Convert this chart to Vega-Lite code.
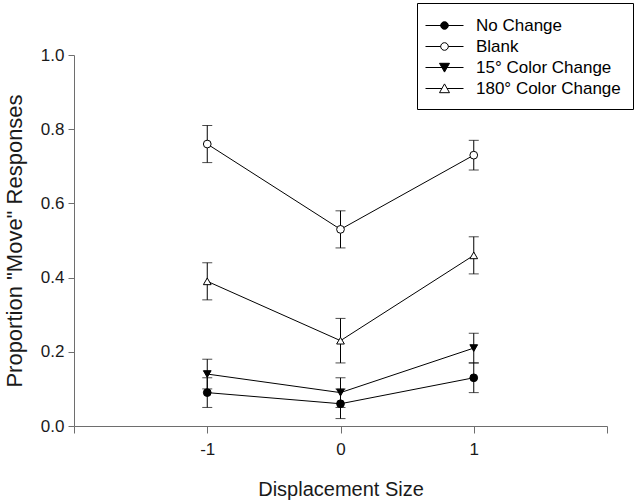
{
  "$schema": "https://vega.github.io/schema/vega-lite/v6.json",
  "width": 533,
  "height": 371,
  "autosize": {"type": "none"},
  "padding": {"left": 74, "top": 55, "right": 29, "bottom": 76},
  "background": "white",
  "config": {
    "font": "Liberation Sans",
    "view": {"stroke": null},
    "axis": {"grid": false, "domainColor": "#6e6e6e", "tickColor": "#6e6e6e", "labelColor": "#1a1a1a", "titleColor": "#1a1a1a", "titleFontWeight": "normal", "labelFont": "Liberation Sans", "titleFont": "Liberation Sans"}
  },
  "data": {
    "values": [
      {"series": "No Change", "x": -1, "mean": 0.09, "lo": 0.05, "hi": 0.13},
      {"series": "No Change", "x": 0, "mean": 0.06, "lo": 0.02, "hi": 0.10},
      {"series": "No Change", "x": 1, "mean": 0.13, "lo": 0.09, "hi": 0.17},
      {"series": "Blank", "x": -1, "mean": 0.76, "lo": 0.71, "hi": 0.81},
      {"series": "Blank", "x": 0, "mean": 0.53, "lo": 0.48, "hi": 0.58},
      {"series": "Blank", "x": 1, "mean": 0.73, "lo": 0.69, "hi": 0.77},
      {"series": "15° Color Change", "x": -1, "mean": 0.14, "lo": 0.10, "hi": 0.18},
      {"series": "15° Color Change", "x": 0, "mean": 0.09, "lo": 0.05, "hi": 0.13},
      {"series": "15° Color Change", "x": 1, "mean": 0.21, "lo": 0.17, "hi": 0.25},
      {"series": "180° Color Change", "x": -1, "mean": 0.39, "lo": 0.34, "hi": 0.44},
      {"series": "180° Color Change", "x": 0, "mean": 0.23, "lo": 0.17, "hi": 0.29},
      {"series": "180° Color Change", "x": 1, "mean": 0.46, "lo": 0.41, "hi": 0.51}
    ]
  },
  "encoding": {
    "x": {
      "field": "x", "type": "quantitative",
      "scale": {"domain": [-2, 2], "nice": false, "zero": false},
      "axis": {"title": "Displacement Size", "values": [-2, -1, 0, 1, 2], "labelExpr": "abs(datum.value) > 1.5 ? '' : '' + datum.value", "tickSize": 7, "labelPadding": 8, "labelFontSize": 17, "titleFontSize": 20, "titlePadding": 22}
    }
  },
  "resolve": {"scale": {"shape": "independent", "fill": "independent"}, "legend": {"shape": "independent", "fill": "independent"}},
  "layer": [
    {
      "mark": {"type": "rule", "color": "black", "strokeWidth": 1},
      "encoding": {
        "y": {"field": "lo", "type": "quantitative"},
        "y2": {"field": "hi"}
      }
    },
    {
      "mark": {"type": "tick", "orient": "horizontal", "color": "black", "thickness": 1, "size": 10},
      "encoding": {"y": {"field": "lo", "type": "quantitative"}}
    },
    {
      "mark": {"type": "tick", "orient": "horizontal", "color": "black", "thickness": 1, "size": 10},
      "encoding": {"y": {"field": "hi", "type": "quantitative"}}
    },
    {
      "mark": {"type": "line", "color": "black", "strokeWidth": 1},
      "encoding": {
        "y": {"field": "mean", "type": "quantitative"},
        "detail": {"field": "series"}
      }
    },
    {
      "mark": {"type": "point", "filled": false, "stroke": "black", "strokeWidth": 1, "size": 60, "opacity": 1},
      "encoding": {
        "y": {
          "field": "mean", "type": "quantitative",
          "scale": {"domain": [0, 1], "nice": false},
          "axis": {"title": "Proportion \"Move\" Responses", "values": [0, 0.2, 0.4, 0.6, 0.8, 1.0], "format": ".1f", "tickSize": 6, "labelPadding": 4, "labelFontSize": 17, "titleFontSize": 22, "titlePadding": 14}
        },
        "shape": {
          "field": "series", "type": "nominal",
          "scale": {"domain": ["No Change", "Blank", "15° Color Change", "180° Color Change"], "range": ["circle", "circle", "triangle-down", "triangle-up"]},
          "legend": null
        },
        "fill": {
          "field": "series", "type": "nominal",
          "scale": {"domain": ["No Change", "Blank", "15° Color Change", "180° Color Change"], "range": ["black", "white", "black", "white"]},
          "legend": null
        }
      }
    },
    {
      "mark": {"type": "point", "filled": false, "stroke": "black", "strokeWidth": 1, "size": 60, "opacity": 0},
      "encoding": {
        "y": {"field": "mean", "type": "quantitative"},
        "fill": {
          "field": "series", "type": "nominal",
          "scale": {"domain": ["No Change", "Blank", "15° Color Change", "180° Color Change"], "range": ["black", "white", "black", "white"]},
          "legend": null
        },
        "shape": {
          "field": "series", "type": "nominal",
          "scale": {"domain": ["No Change", "Blank", "15° Color Change", "180° Color Change"], "range": [
            "M-1.9,0H1.9M-0.38,0A0.38,0.38,0,1,1,0.38,0A0.38,0.38,0,1,1,-0.38,0Z",
            "M-1.9,0H-0.38M0.38,0H1.9M-0.38,0A0.38,0.38,0,1,1,0.38,0A0.38,0.38,0,1,1,-0.38,0Z",
            "M-1.9,0H1.9M-0.5,-0.42L0.5,-0.42L0,0.46Z",
            "M-1.9,0H-0.25M0.25,0H1.9M-0.5,0.42L0.5,0.42L0,-0.46Z"
          ]},
          "legend": {
            "title": null,
            "orient": "none",
            "legendX": 343,
            "legendY": -52,
            "strokeColor": "black",
            "fillColor": "white",
            "padding": 12,
            "symbolSize": 400,
            "symbolOffset": 5,
            "labelOffset": 21,
            "labelFontSize": 17,
            "labelColor": "black",
            "labelFont": "Liberation Sans",
            "rowPadding": 2,
            "symbolStrokeWidth": 1,
            "symbolOpacity": 1,
            "encode": {
              "symbols": {
                "update": {
                  "fill": {"signal": "datum.value === 'No Change' || datum.value === '15° Color Change' ? 'black' : 'white'"},
                  "stroke": {"value": "black"},
                  "strokeWidth": {"value": 1},
                  "opacity": {"value": 1}
                }
              }
            }
          }
        }
      }
    }
  ]
}
